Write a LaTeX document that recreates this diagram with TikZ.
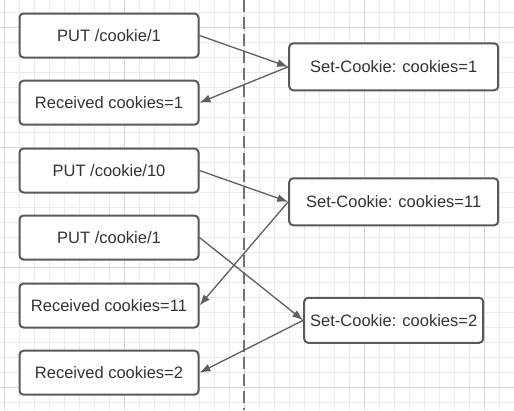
\documentclass[tikz,border=0pt]{standalone}
\usepackage{fontspec}
\setmainfont{Liberation Sans}
\usepackage{tikz}
\usetikzlibrary{arrows.meta}
\usetikzlibrary{positioning}
\definecolor{boxline}{HTML}{5A5A5A}
\definecolor{arrline}{HTML}{5F5F5F}
\definecolor{gridminor}{HTML}{EBEBEB}
\definecolor{gridmajor}{HTML}{D6D6D6}
\tikzset{>=latex}
\tikzstyle{msg} = [rectangle, rounded corners=4pt, draw=boxline, line width=2pt, fill=white, inner sep=0pt, text=black!80, font=\fontsize{16.5}{19}\selectfont]
\tikzstyle{client} = [msg, minimum width=179pt, minimum height=44pt]
\tikzstyle{server} = [msg, minimum width=209pt, minimum height=47pt]
\tikzstyle{flow} = [-{Latex[length=11pt,width=8pt]}, draw=arrline, line width=1.3pt]
\tikzstyle{divider} = [draw=black!55, line width=2pt, dash pattern=on 12pt off 5pt]

\begin{document}
\begin{tikzpicture}[x=1pt, y=-1pt]
\useasboundingbox (0, 0) rectangle (514, 410);
\fill [white] (0, 0) rectangle (514, 410);
% grid
\foreach \gx in {4, 19, ..., 514} \draw [gridminor, line width=1pt] (\gx, 0) -- (\gx, 410);
\foreach \gy in {12, 27, ..., 410} \draw [gridminor, line width=1pt] (0, \gy) -- (514, \gy);
\foreach \gx in {4, 124, 244, 364, 484} \draw [gridmajor, line width=1pt] (\gx, 0) -- (\gx, 410);
\foreach \gy in {27, 147, 267, 387} \draw [gridmajor, line width=1pt] (0, \gy) -- (514, \gy);

\coordinate (top) at (244, 0);
\coordinate (bottom) at (244, 410);
\draw [divider] (top) -- (bottom);

\node [client] (put1) at (109, 35.5) {PUT /cookie/1};
\node [client] (recv1) at (109, 102.7) {Received cookies=1};
\node [client] (put10) at (109, 170.5) {PUT /cookie/10};
\node [client] (put1b) at (109, 237.5) {PUT /cookie/1};
\node [client] (recv11) at (109, 305.5) {Received cookies=11};
\node [client] (recv2) at (109, 372.7) {Received cookies=2};

\node [server] (set1) at (393.7, 66.8) {Set-Cookie: cookies=1};
\node [server] (set11) at (393.7, 201.8) {Set-Cookie: cookies=11};
\node [client, minimum height=45pt] (set2) at (393.7, 320.3) {Set-Cookie: cookies=2};

\draw [flow] (put1.east) to (set1.west);
\draw [flow] (set1.west) to (recv1.east);
\draw [flow] (put10.east) to (set11.west);
\draw [flow] (set11.west) to (recv11.east);
\draw [flow] (put1b.east) to (set2.west);
\draw [flow] (set2.west) to (recv2.east);
\end{tikzpicture}
\end{document}
